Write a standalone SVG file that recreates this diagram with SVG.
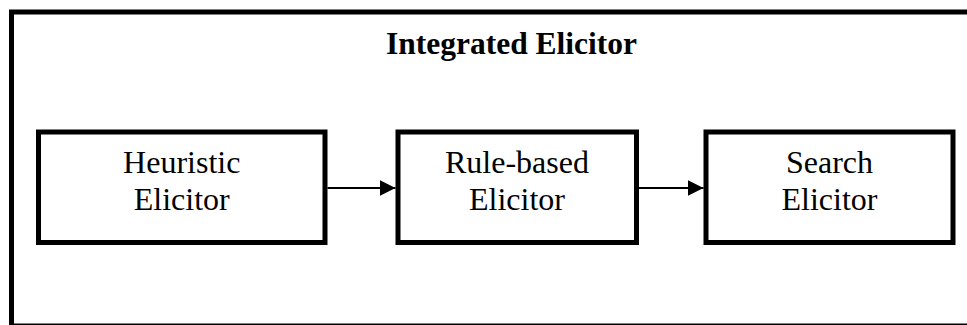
<svg xmlns="http://www.w3.org/2000/svg" width="967" height="325" viewBox="0 0 967 325">
<defs>
<style>
.box{fill:#fff;stroke:#000;stroke-width:5}
.conn{stroke:#000;stroke-width:2;fill:none}
</style>
<marker id="arr" markerUnits="userSpaceOnUse" markerWidth="17" markerHeight="17" refX="16" refY="8.5" orient="auto">
<path d="M0,0.5 L16,8.5 L0,16.5 Z" fill="#000"/>
</marker>
</defs>
<rect width="967" height="325" fill="#fff"/>
<g id="integrated-elicitor">
<rect x="11.5" y="12" width="960" height="314" class="box"/>
<text x="511.5" y="54" font-family="Liberation Serif, serif" font-size="31.5" font-weight="bold" text-anchor="middle" fill="#000">Integrated Elicitor</text>
</g>
<g font-family="Liberation Serif, serif" font-size="32" text-anchor="middle" fill="#000">
<g id="heuristic">
<rect x="38.5" y="132" width="286.5" height="110.5" class="box"/>
<text x="181.75" y="173">Heuristic</text>
<text x="181.75" y="210">Elicitor</text>
</g>
<g id="rule-based">
<rect x="398" y="132" width="238.5" height="110.5" class="box"/>
<text x="517" y="173">Rule-based</text>
<text x="517" y="210">Elicitor</text>
</g>
<g id="search">
<rect x="706" y="132" width="247" height="110.5" class="box"/>
<text x="829.5" y="173">Search</text>
<text x="829.5" y="210">Elicitor</text>
</g>
</g>
<g id="connectors">
<line x1="327.5" y1="188" x2="395.5" y2="188" class="conn" marker-end="url(#arr)"/>
<line x1="639" y1="188" x2="703.5" y2="188" class="conn" marker-end="url(#arr)"/>
</g>
</svg>
